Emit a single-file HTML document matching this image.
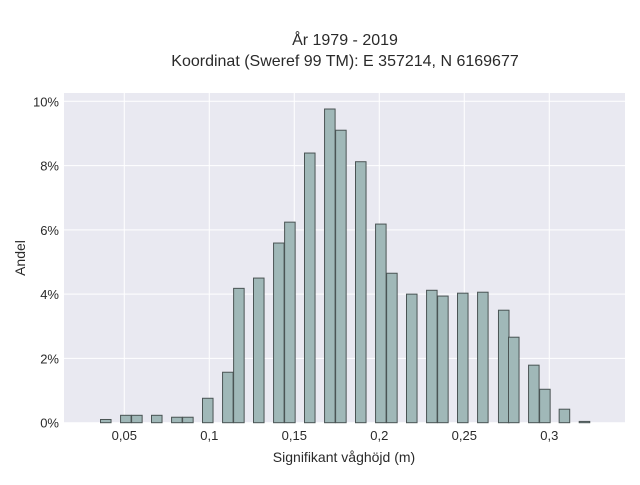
<!DOCTYPE html>
<html><head><meta charset="utf-8"><style>
body{margin:0;background:#fff;}
svg text{font-family:"Liberation Sans",sans-serif;fill:#2a2a2a;}
</style></head><body>
<svg id="chart" width="640" height="480" xmlns="http://www.w3.org/2000/svg">
<rect x="0" y="0" width="640" height="480" fill="#fff"/>
<text x="345" y="45" text-anchor="middle" font-size="16">År 1979 - 2019</text>
<text x="345" y="66" text-anchor="middle" font-size="16">Koordinat (Sweref 99 TM): E 357214, N 6169677</text>
<rect x="64" y="93" width="561" height="330" fill="#e9e9f1"/>
<g id="grid"></g>
<g id="bars"></g>
<g id="ticks"></g>
<text x="344" y="462" text-anchor="middle" font-size="14">Signifikant våghöjd (m)</text>
<text x="0" y="0" transform="translate(25,258) rotate(-90)" text-anchor="middle" font-size="14">Andel</text>
</svg>
<script>
const binCenters=[0.0391,0.0509,0.0574,0.0691,0.0809,0.0874,0.0991,0.1109,0.1174,0.1291,0.1409,0.1474,0.1591,0.1709,0.1774,0.1891,0.2009,0.2074,0.2191,0.2309,0.2374,0.2491,0.2609,0.2732,0.2791,0.2909,0.2974,0.3089,0.3207];
const shares=[0.10,0.23,0.23,0.23,0.17,0.17,0.76,1.57,4.18,4.50,5.59,6.24,8.39,9.76,9.10,8.12,6.18,4.65,4.00,4.12,3.94,4.03,4.06,3.50,2.66,1.79,1.04,0.42,0.04];
const xTicks=[0.05,0.1,0.15,0.2,0.25,0.3];
const xTickLabels=["0,05","0,1","0,15","0,2","0,25","0,3"];
const yTicks=[0,2,4,6,8,10];
const yTickLabels=["0%","2%","4%","6%","8%","10%"];
const binWidth=0.0062;
const NS="http://www.w3.org/2000/svg";
const xs=v=>124.3+(v-0.05)*1700;
const ys=v=>422.7-v*32.14;
const grid=document.getElementById('grid'),bars=document.getElementById('bars'),ticks=document.getElementById('ticks');
function mk(tag,attrs,parent){const e=document.createElementNS(NS,tag);for(const k in attrs)e.setAttribute(k,attrs[k]);parent.appendChild(e);return e;}
xTicks.forEach((t,i)=>{
 const l=mk('line',{x1:xs(t),x2:xs(t),y1:93,y2:423,stroke:'#fff','stroke-width':1},grid);
 
 
 const tx=mk('text',{x:xs(t),y:440,'text-anchor':'middle','font-size':13},ticks);
 tx.textContent=xTickLabels[i];
 
 
});
yTicks.forEach((t,i)=>{
 const l=mk('line',{x1:64,x2:625,y1:ys(t),y2:ys(t),stroke:'#fff','stroke-width':1},grid);
 
 
 const tx=mk('text',{x:59,y:ys(t)+5,'text-anchor':'end','font-size':13},ticks);
 tx.textContent=yTickLabels[i];
 
 
});
binCenters.forEach((c,i)=>{
 const x0=xs(c-binWidth/2),x1=xs(c+binWidth/2);
 const r=mk('rect',{x:x0,y:ys(shares[i]),width:x1-x0,height:ys(0)-ys(shares[i]),fill:'#a0b8b8',stroke:'#4a5454','stroke-width':1},bars);
 
 
});
</script>
</body></html>
